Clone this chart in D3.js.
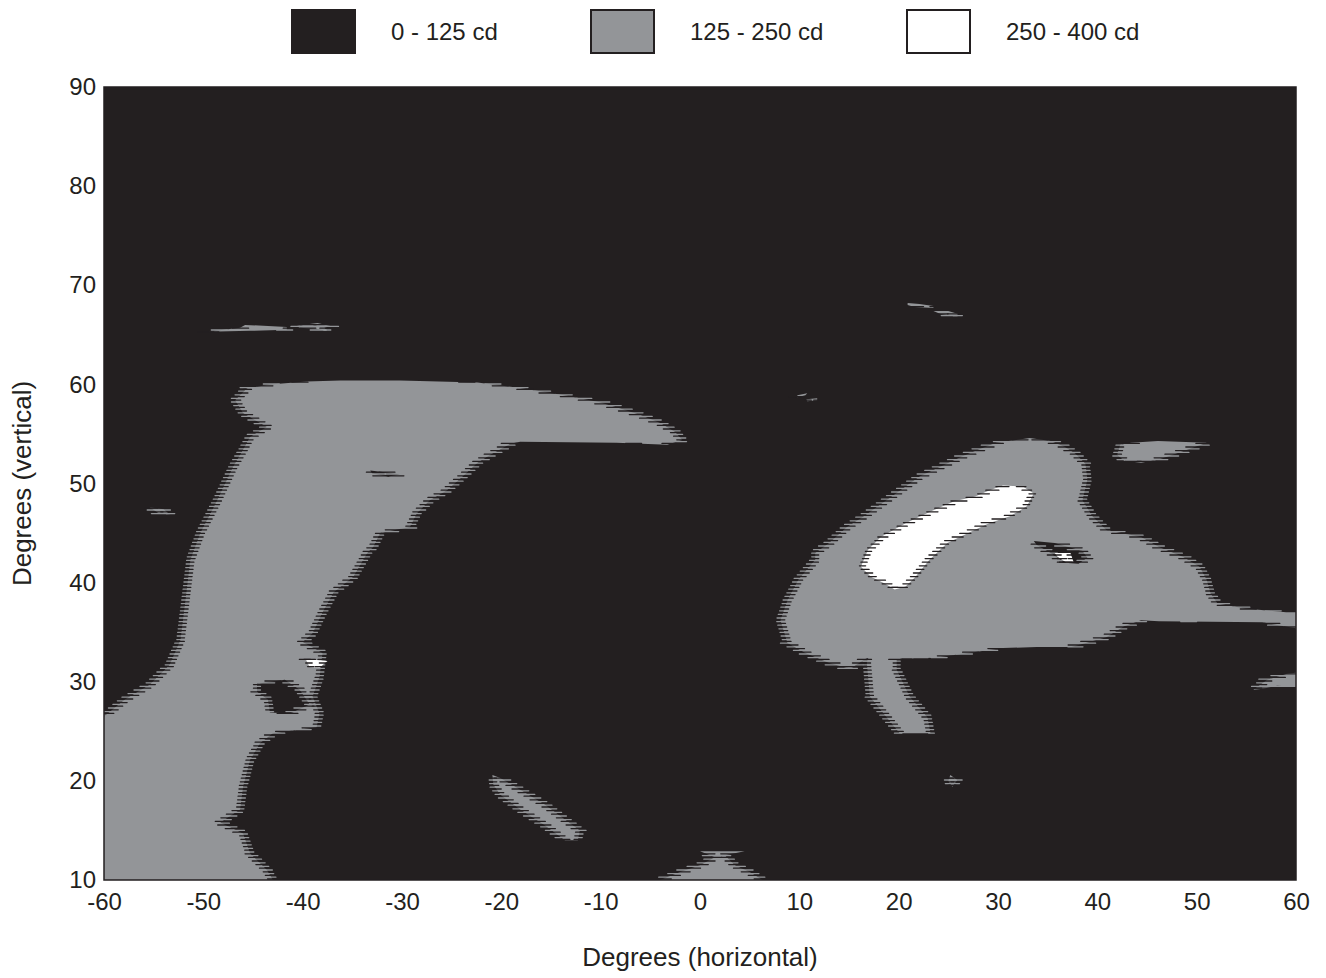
<!DOCTYPE html>
<html>
<head>
<meta charset="utf-8">
<script src="https://cdn.jsdelivr.net/npm/d3@7"></script>
<style>
  html, body { margin: 0; background: #ffffff; }
  svg { display: block; font-family: "Liberation Sans", Arial, Helvetica, sans-serif; }
</style>
</head>
<body>
<svg id="chart" width="1326" height="978"></svg>
<script>
// Luminous intensity bands (candela)
const bandLabels = ["0 - 125 cd", "125 - 250 cd", "250 - 400 cd"];
const bandColors = ["#231f20", "#939598", "#ffffff"];

// Axis ticks (degrees)
const xTicks = [-60, -50, -40, -30, -20, -10, 0, 10, 20, 30, 40, 50, 60];
const yTicks = [10, 20, 30, 40, 50, 60, 70, 80, 90];

// Region outlines as [horizontal deg, vertical deg]
// 125 - 250 cd band
const grayWestBand = [
  [-60, 10], [-60, 26.5], [-57.9, 28.2], [-55.4, 29.7], [-53.4, 31.7], [-52.3, 34.2],
  [-51.8, 38.2], [-51.3, 42.3], [-50.3, 45.0], [-48.6, 48.3], [-47.0, 51.7], [-46.0, 53.4],
  [-45.3, 54.7], [-43.6, 55.7], [-46.0, 57.1], [-46.8, 58.4], [-45.6, 59.6], [-43.3, 60.0],
  [-39.6, 60.3], [-36.2, 60.4], [-30.2, 60.4], [-22.4, 60.2], [-18.6, 59.7], [-16.1, 59.3],
  [-13.1, 58.8], [-10.1, 58.2], [-8.1, 57.6], [-6.0, 56.9], [-4.0, 56.1], [-2.5, 55.2],
  [-1.8, 54.4], [-3.3, 53.9], [-8.4, 54.1], [-18.1, 54.2], [-19.1, 54.0], [-21.1, 52.9],
  [-22.4, 52.1], [-23.9, 50.7], [-25.5, 49.3], [-27.2, 48.3], [-28.5, 47.0], [-29.2, 45.6],
  [-32.2, 45.0], [-32.9, 43.6], [-33.5, 43.0], [-34.9, 40.6], [-36.9, 39.0], [-38.0, 37.0],
  [-39.0, 34.9], [-40.0, 34.0], [-38.0, 32.9], [-38.3, 30.5], [-39.0, 28.5], [-38.3, 26.8],
  [-38.6, 25.4], [-43.0, 24.8], [-44.3, 23.8], [-45.3, 22.1], [-46.0, 19.4], [-46.3, 17.1],
  [-48.3, 15.8], [-46.0, 14.7], [-45.3, 12.7], [-43.6, 11.0], [-43.0, 10]
];
const grayEastLobe = [
  [29.8, 54.1], [33.2, 54.6], [35.3, 54.3], [36.7, 53.7], [37.8, 53.0], [38.8, 52.0],
  [39.0, 50.4], [38.5, 48.3], [39.5, 46.7], [40.9, 45.3], [44.4, 44.6], [46.2, 43.6],
  [48.6, 42.6], [50.3, 41.6], [51.0, 40.3], [51.4, 38.9], [52.1, 37.9], [54.9, 37.4],
  [59.0, 37.0], [60, 37.0], [60, 35.4], [56.6, 36.0], [46.2, 36.1], [44.4, 36.2],
  [42.7, 35.6], [40.9, 34.5], [37.4, 33.5], [33.9, 33.5], [30.5, 33.4], [27.0, 32.9],
  [23.5, 32.4], [20.7, 32.5], [19.8, 32.2], [19.8, 31.2], [21.1, 28.5], [22.9, 26.4],
  [23.2, 24.8], [20.1, 24.8], [18.8, 26.4], [17.1, 28.5], [16.8, 31.9], [16.9, 32.4],
  [16.5, 32.2], [15.1, 31.3], [13.0, 31.9], [10.6, 32.9], [8.8, 33.9], [8.1, 36.2],
  [8.8, 38.2], [9.9, 40.3], [11.6, 42.3], [11.6, 43.0], [13.0, 44.0], [14.8, 45.6],
  [16.5, 46.7], [19.3, 48.7], [22.1, 50.7], [24.2, 51.7], [26.3, 52.7], [28.0, 53.4]
];
const grayNorthEastIsland = [
  [42.3, 53.9], [43.4, 54.1], [46.1, 54.3], [51.0, 54.1], [49.6, 53.6], [47.9, 53.0],
  [46.1, 52.4], [44.4, 52.1], [42.7, 52.3], [42.0, 52.9]
];
const grayEdgeIsland = [
  [55.7, 29.2], [57.1, 30.2], [59.1, 30.8], [60, 30.9], [60, 29.5], [58.1, 29.6], [56.7, 29.3]
];
const grayNorthIslandA = [
  [-49.6, 65.3], [-46.3, 65.7], [-45.8, 66.0], [-41.6, 65.8], [-41.6, 65.5], [-45.3, 65.4]
];
const grayNorthIslandB = [
  [-40.6, 65.9], [-39.3, 66.1], [-38.5, 66.2], [-37.2, 65.9], [-37.8, 65.7], [-37.6, 65.4],
  [-38.8, 65.6], [-40.3, 65.7]
];
const graySouthStreak = [
  [-20.9, 20.6], [-20.1, 20.3], [-18.1, 19.1], [-15.6, 17.6], [-13.6, 16.1], [-12.1, 15.0],
  [-12.3, 14.0], [-13.6, 14.0], [-15.6, 15.5], [-18.1, 17.1], [-20.1, 18.6], [-20.8, 19.6]
];
const grayCentreCone = [
  [-4.0, 10], [-2.0, 10.8], [0, 11.5], [1.5, 12.3], [0, 12.9], [4.5, 12.9], [2.5, 12.5],
  [3.5, 11.5], [5.0, 10.8], [6.3, 10]
];
const grayDotSouth = [[25.2, 20.6], [25.9, 20.1], [25.4, 19.4], [25.0, 20.0]];
const grayDotWest = [[-55.4, 47.6], [-54.0, 47.4], [-53.4, 46.9], [-54.5, 47.0]];
const grayFleckA = [[20.9, 68.2], [22.1, 68.1], [23.5, 67.9], [23.5, 67.7], [21.6, 67.8], [20.9, 68.0]];
const grayFleckB = [[23.5, 67.4], [25.0, 67.4], [26.0, 67.1], [25.7, 66.9], [24.2, 67.1]];
const grayFleckC = [[9.8, 58.9], [10.8, 59.1], [10.6, 58.9], [9.8, 58.7]];
const grayFleckD = [[10.7, 58.5], [11.8, 58.6], [11.8, 58.4], [10.8, 58.3]];

// 0 - 125 cd pockets inside the grey band
const darkPocketWest = [
  [-44.6, 29.8], [-41.8, 30.2], [-40.3, 29.2], [-39.3, 27.7], [-41.3, 26.8], [-43.3, 26.9],
  [-43.5, 28.2], [-44.6, 29.0]
];
const darkSliverArm = [[-33.2, 51.3], [-31.5, 51.1], [-30.2, 50.9], [-31.4, 50.7], [-33.0, 51.0]];
const darkPocketEast = [
  [33.6, 44.2], [35.7, 44.0], [38.5, 43.2], [39.0, 42.5], [38.1, 41.9], [36.7, 42.0],
  [35.3, 43.0], [33.9, 43.8]
];

// 250 - 400 cd band
const whiteCore = [
  [30.5, 49.8], [32.5, 49.7], [33.6, 49.0], [32.9, 47.7], [31.2, 46.7], [29.1, 46.0],
  [27.0, 45.0], [24.9, 44.0], [23.1, 42.3], [21.7, 40.6], [20.7, 39.6], [19.6, 39.3],
  [18.6, 39.9], [17.2, 40.6], [16.2, 41.6], [16.9, 43.3], [18.2, 44.6], [20.7, 46.0],
  [23.5, 47.3], [25.6, 48.2], [27.7, 48.7], [29.1, 49.3]
];
const whiteSpeckEast = [[35.7, 43.0], [37.3, 43.0], [37.6, 42.1], [36.9, 42.0], [36.0, 42.6]];
const whiteSpeckWest = [[-39.7, 32.3], [-37.5, 32.1], [-38.3, 31.4], [-39.3, 31.5]];

const layers = [
  { level: 1, shapes: [grayWestBand, grayEastLobe, grayNorthEastIsland, grayEdgeIsland,
      grayNorthIslandA, grayNorthIslandB, graySouthStreak, grayCentreCone, grayDotSouth,
      grayDotWest, grayFleckA, grayFleckB, grayFleckC, grayFleckD] },
  { level: 0, shapes: [darkPocketWest, darkSliverArm, darkPocketEast] },
  { level: 2, shapes: [whiteCore, whiteSpeckEast, whiteSpeckWest] }
];

const ink = "#231f20";
const svg = d3.select("#chart");
const plot = { left: 104, top: 87, right: 1296, bottom: 880 };

const x = d3.scaleLinear().domain([-60, 60]).range([plot.left, plot.right]);
const y = d3.scaleLinear().domain([10, 90]).range([plot.bottom, plot.top]);

svg.append("defs").append("clipPath").attr("id", "plotClip")
  .append("rect")
  .attr("x", plot.left).attr("y", plot.top)
  .attr("width", plot.right - plot.left).attr("height", plot.bottom - plot.top);

// Field background: lowest band
svg.append("rect")
  .attr("x", plot.left).attr("y", plot.top)
  .attr("width", plot.right - plot.left).attr("height", plot.bottom - plot.top)
  .attr("fill", bandColors[0]);

const area = d3.line().x(d => x(d[0])).y(d => y(d[1])).curve(d3.curveLinearClosed);
const field = svg.append("g").attr("clip-path", "url(#plotClip)");

// Scan-line crossings of a region outline (screen coordinates), used to draw
// the stepped raster fringe along each contour edge.
const rowStep = 3.6;
function crossings(shape, yr) {
  const pts = shape.map(d => [x(d[0]), y(d[1])]);
  const hits = [];
  for (let i = 0; i < pts.length; i++) {
    const p = pts[i], q = pts[(i + 1) % pts.length];
    if ((p[1] <= yr && q[1] > yr) || (q[1] <= yr && p[1] > yr)) {
      const t = (yr - p[1]) / (q[1] - p[1]);
      hits.push({ x: p[0] + t * (q[0] - p[0]), run: Math.abs((q[0] - p[0]) / (q[1] - p[1])) });
    }
  }
  return hits.sort((a, b) => a.x - b.x);
}

function fringe(shape, level) {
  const ext = d3.extent(shape, d => y(d[1]));
  const segs = [];
  const k0 = Math.ceil((ext[0] - plot.top) / rowStep), k1 = Math.floor((ext[1] - plot.top) / rowStep);
  for (let k = k0; k <= k1; k++) {
    [0, 0.5].forEach(phase => {
      const yr = plot.top + (k + phase) * rowStep;
      if (yr <= ext[0] || yr >= ext[1]) return;
      crossings(shape, yr).forEach((h, i) => {
        if (h.x <= plot.left + 1 || h.x >= plot.right - 1) return;
        const L = Math.min(5 + h.run * rowStep * 0.8, 16);
        const leftEnd = i % 2 === 0;          // region interior lies to the right
        let inward = phase === 0;              // dark teeth reach into the region
        if (level === 0) inward = !inward;
        if (level === 2 && phase !== 0) return;
        const dir = leftEnd ? 1 : -1;
        const sgn = inward ? dir : -dir;
        const a = h.x - sgn * 0.3 * L, b = h.x + sgn * 0.7 * L;
        const colour = phase === 0 ? ink : bandColors[level === 0 ? 1 : level];
        segs.push({ x1: Math.min(a, b), x2: Math.max(a, b), y: yr, colour });
      });
    });
  }
  return segs;
}

layers.forEach(layer => {
  const g = field.append("g");
  g.selectAll("path")
    .data(layer.shapes)
    .join("path")
    .attr("d", area)
    .attr("fill", bandColors[layer.level]);
  const teeth = layer.shapes.flatMap(s => fringe(s, layer.level));
  g.append("g").selectAll("line")
    .data(teeth)
    .join("line")
    .attr("x1", d => d.x1).attr("x2", d => d.x2)
    .attr("y1", d => d.y).attr("y2", d => d.y)
    .attr("stroke", d => d.colour)
    .attr("stroke-width", 1.3)
    .attr("stroke-linecap", "round");
});

// Frame
svg.append("rect")
  .attr("x", plot.left).attr("y", plot.top)
  .attr("width", plot.right - plot.left).attr("height", plot.bottom - plot.top)
  .attr("fill", "none").attr("stroke", ink).attr("stroke-width", 1.5);

// Axes
const xAxis = svg.append("g")
  .attr("transform", `translate(0,${plot.bottom})`)
  .call(d3.axisBottom(x).tickValues(xTicks).tickSize(0).tickPadding(13).tickFormat(d => String(d)));
const yAxis = svg.append("g")
  .attr("transform", `translate(${plot.left},0)`)
  .call(d3.axisLeft(y).tickValues(yTicks).tickSize(0).tickPadding(8).tickFormat(d => String(d)));
[xAxis, yAxis].forEach(g => {
  g.select(".domain").remove();
  g.selectAll("text")
    .attr("fill", ink)
    .style("font-size", "24px")
    .style("font-family", "'Liberation Sans', Arial, sans-serif");
});

// Axis titles
svg.append("text")
  .attr("x", (plot.left + plot.right) / 2).attr("y", 966)
  .attr("text-anchor", "middle").attr("fill", ink).style("font-size", "26px")
  .text("Degrees (horizontal)");
svg.append("text")
  .attr("transform", `translate(31,${(plot.top + plot.bottom) / 2}) rotate(-90)`)
  .attr("text-anchor", "middle").attr("fill", ink).style("font-size", "26px")
  .text("Degrees (vertical)");

// Legend
const legendX = [292, 591, 907];
const legend = svg.append("g");
bandLabels.forEach((label, i) => {
  const g = legend.append("g").attr("transform", `translate(${legendX[i]},10)`);
  g.append("rect").attr("x", 0).attr("y", 0).attr("width", 63).attr("height", 43)
    .attr("fill", bandColors[i]).attr("stroke", ink).attr("stroke-width", 2);
  g.append("text").attr("x", 99).attr("y", 30).attr("fill", ink)
    .style("font-size", "24px").text(label);
});
</script>
</body>
</html>
